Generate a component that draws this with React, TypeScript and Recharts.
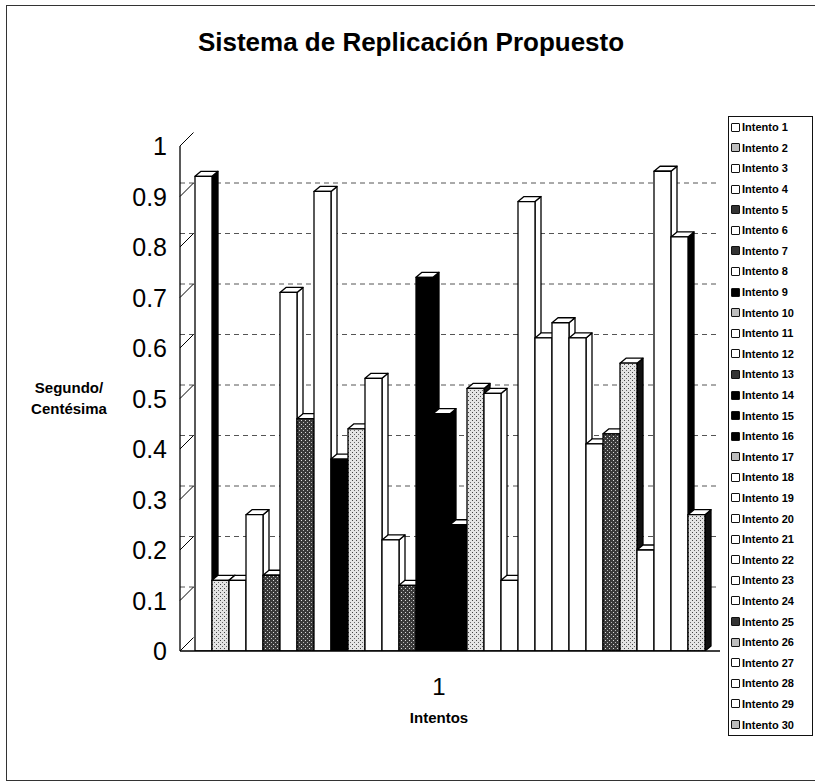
import { BarChart, Bar, XAxis, YAxis, CartesianGrid, Legend } from 'recharts'

const FONT = '"Liberation Sans", Arial, sans-serif'

const categorias = ['1']
const intentos = [
  'Intento 1', 'Intento 2', 'Intento 3', 'Intento 4', 'Intento 5',
  'Intento 6', 'Intento 7', 'Intento 8', 'Intento 9', 'Intento 10',
  'Intento 11', 'Intento 12', 'Intento 13', 'Intento 14', 'Intento 15',
  'Intento 16', 'Intento 17', 'Intento 18', 'Intento 19', 'Intento 20',
  'Intento 21', 'Intento 22', 'Intento 23', 'Intento 24', 'Intento 25',
  'Intento 26', 'Intento 27', 'Intento 28', 'Intento 29', 'Intento 30',
]
const tiempos = [
  0.94, 0.14, 0.14, 0.27, 0.15, 0.71, 0.46, 0.91, 0.38, 0.44,
  0.54, 0.22, 0.13, 0.74, 0.47, 0.25, 0.52, 0.51, 0.14, 0.89,
  0.62, 0.65, 0.62, 0.41, 0.43, 0.57, 0.2, 0.95, 0.82, 0.27,
]
const yTicks = [0, 0.1, 0.2, 0.3, 0.4, 0.5, 0.6, 0.7, 0.8, 0.9, 1]
const gridTicks = [0.1, 0.2, 0.3, 0.4, 0.5, 0.6, 0.7, 0.8, 0.9]

// w blanco, k blanco con lado negro, l punteado claro, d punteado oscuro, b negro
const estilos = [
  'k', 'l', 'w', 'w', 'd', 'w', 'd', 'w', 'b', 'l',
  'w', 'w', 'd', 'b', 'b', 'b', 'l', 'w', 'w', 'w',
  'w', 'w', 'w', 'w', 'd', 'l', 'w', 'w', 'k', 'l',
]
const FRENTE: Record<string, string> = {
  w: '#ffffff', k: '#ffffff', l: 'url(#puntosClaro)', d: 'url(#puntosOscuro)', b: '#000000',
}
const LADO: Record<string, string> = { w: '#ffffff', k: '#000000', l: '#111111', d: '#111111', b: '#000000' }
const MUESTRA: Record<string, string> = { w: '#ffffff', k: '#ffffff', l: '#bdbdbd', d: '#333333', b: '#000000' }

// profundidad de la pared del fondo (perspectiva 3D)
const FONDO = 13.5

const data = categorias.map((c) => {
  const row: Record<string, string | number> = { name: c }
  intentos.forEach((n, i) => (row[n] = tiempos[i]))
  return row
})

function Barra3D(props: any) {
  const { x, y, width, height, fill, lado } = props
  if (!height || height <= 0) return null
  const d = 6
  const e = 5
  const r = x + width
  return (
    <g stroke="#000" strokeWidth={1.3} strokeLinejoin="round">
      <path d={`M${r},${y} L${r + d},${y - e} L${r + d},${y + height - e} L${r},${y + height} Z`} fill={lado} />
      <path d={`M${x},${y} L${x + d},${y - e} L${r + d},${y - e} L${r},${y} Z`} fill="#fff" />
      <rect x={x} y={y} width={width} height={height} fill={fill} />
    </g>
  )
}

function TickY(props: any) {
  const { x, y, payload } = props
  return (
    <g>
      <line x1={x + 13} y1={y} x2={x + 13 + FONDO} y2={y - FONDO} stroke="#000" strokeWidth={1} />
      <text x={x} y={y} dy="0.36em" textAnchor="end" fontSize={25} fontFamily={FONT} fill="#000">
        {payload.value}
      </text>
    </g>
  )
}

function TickX(props: any) {
  const { x, y, payload } = props
  return (
    <text x={x - 11} y={y + 44} textAnchor="middle" fontSize={24} fontFamily={FONT} fill="#000">
      {payload.value}
    </text>
  )
}

// líneas de la pared del fondo, desplazadas hacia arriba por la profundidad
function lineasFondo({ yAxis, offset }: any) {
  const s = yAxis && yAxis.scale
  return gridTicks.map((t) =>
    typeof s === 'function' ? s(t) - FONDO : offset.top + offset.height * (1 - t) - FONDO,
  )
}

function Leyenda() {
  return (
    <div style={{ border: '1.5px solid #111', background: '#fff', boxSizing: 'border-box', width: 85, paddingLeft: 2 }}>
      {intentos.map((n, i) => (
        <div
          key={n}
          style={{ display: 'flex', alignItems: 'center', height: 20.6, font: `bold 11px ${FONT}`, color: '#000' }}
        >
          <span
            style={{
              display: 'inline-block',
              width: 7,
              height: 7,
              border: '1.5px solid #111',
              borderRadius: 1,
              background: MUESTRA[estilos[i]],
              marginRight: 2,
            }}
          />
          {n}
        </div>
      ))}
    </div>
  )
}

export default function App() {
  return (
    <div style={{ position: 'fixed', left: 0, top: 0, width: 815, height: 783, overflow: 'hidden', background: '#fff' }}>
      <div
        style={{
          position: 'absolute',
          left: 6,
          top: 5,
          width: 900,
          height: 776,
          border: '1.5px solid #333',
          boxSizing: 'border-box',
        }}
      />
      <div
        style={{
          position: 'absolute',
          left: 0,
          top: 27,
          width: 822,
          textAlign: 'center',
          font: `bold 26px ${FONT}`,
          lineHeight: '30px',
          color: '#000',
        }}
      >
        Sistema de Replicación Propuesto
      </div>
      <div style={{ position: 'absolute', left: 0, top: 0 }}>
        <BarChart
          width={815}
          height={783}
          data={data}
          margin={{ top: 146, right: 95, left: 0, bottom: 72 }}
          barCategoryGap={15}
          barGap={0}
        >
          <defs>
            <pattern id="puntosClaro" width="4" height="4" patternUnits="userSpaceOnUse">
              <rect width="4" height="4" fill="#e4e4e4" />
              <rect x="0" y="0" width="1" height="1" fill="#444" />
              <rect x="2" y="2" width="1" height="1" fill="#666" />
            </pattern>
            <pattern id="puntosOscuro" width="4" height="4" patternUnits="userSpaceOnUse">
              <rect width="4" height="4" fill="#3a3a3a" />
              <rect x="1" y="0" width="1" height="1" fill="#ddd" />
              <rect x="3" y="2" width="1" height="1" fill="#bbb" />
            </pattern>
          </defs>
          <CartesianGrid
            vertical={false}
            stroke="#555"
            strokeDasharray="5 4"
            horizontalCoordinatesGenerator={lineasFondo}
          />
          <XAxis
            dataKey="name"
            height={60}
            axisLine={{ stroke: '#000', strokeWidth: 1.3 }}
            tickLine={false}
            tickSize={0}
            tickMargin={0}
            tick={<TickX />}
            label={{
              content: (p: any) => {
                const vb = p.viewBox
                return (
                  <text
                    x={vb.x + vb.width / 2 - 11}
                    y={vb.y + 72}
                    textAnchor="middle"
                    fontSize={15}
                    fontWeight="bold"
                    fontFamily={FONT}
                    fill="#000"
                  >
                    Intentos
                  </text>
                )
              },
            }}
          />
          <YAxis
            width={180}
            domain={[0, 1]}
            ticks={yTicks}
            allowDataOverflow
            axisLine={{ stroke: '#000', strokeWidth: 1.3 }}
            tickLine={false}
            tickSize={0}
            tickMargin={13}
            tick={<TickY />}
            label={{
              content: (p: any) => {
                const vb = p.viewBox
                const cy = vb.y + vb.height / 2
                return (
                  <text textAnchor="middle" fontSize={15} fontWeight="bold" fontFamily={FONT} fill="#000">
                    <tspan x={vb.x + 69} y={cy - 6}>Segundo/</tspan>
                    <tspan x={vb.x + 69} y={cy + 15}>Centésima</tspan>
                  </text>
                )
              },
            }}
          />
          <Legend
            layout="vertical"
            align="center"
            verticalAlign="middle"
            content={<Leyenda />}
            wrapperStyle={{ left: 728, top: 116, width: 85 }}
          />
          {intentos.map((n, i) => (
            <Bar
              key={n}
              dataKey={n}
              fill={FRENTE[estilos[i]]}
              isAnimationActive={false}
              shape={(p: any) => <Barra3D {...p} lado={LADO[estilos[i]]} />}
            />
          ))}
        </BarChart>
      </div>
    </div>
  )
}
